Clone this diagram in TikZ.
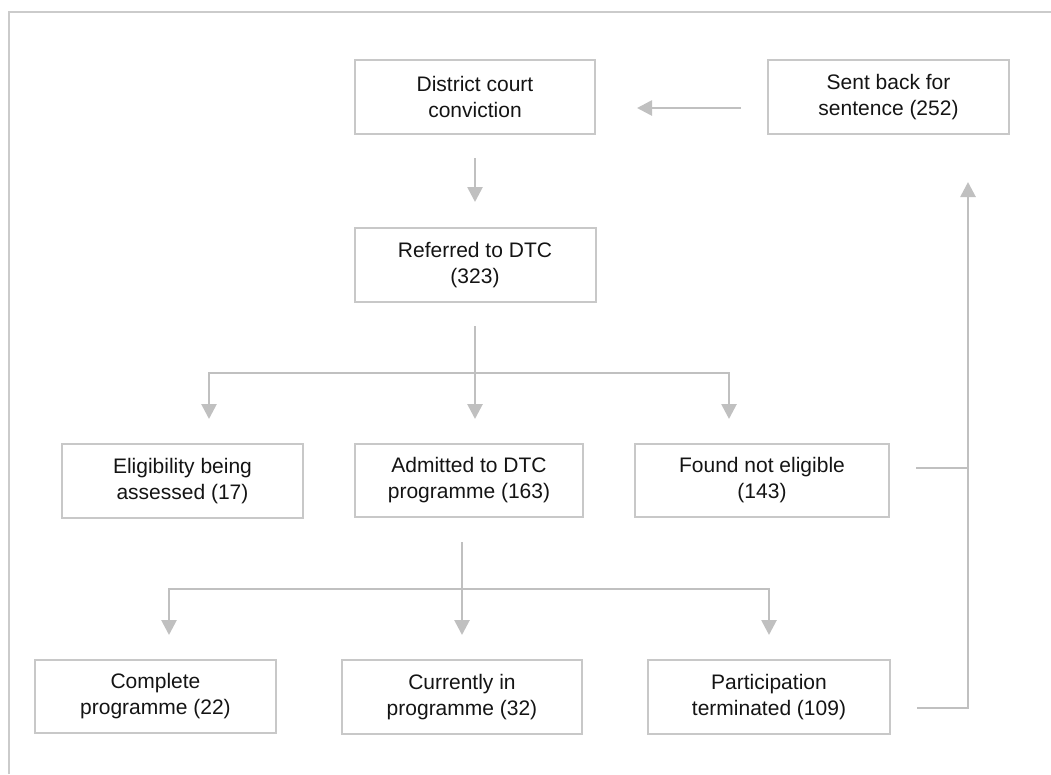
\documentclass[tikz,border=0pt]{standalone}
\usepackage{fontspec}
\setmainfont{Liberation Sans}
\usepackage{tikz}
\usetikzlibrary{arrows.meta}

\definecolor{boxgray}{HTML}{C8C8C8}
\definecolor{flowgray}{HTML}{C0C0C0}
\definecolor{framegray}{HTML}{CBCBCB}

\tikzset{
	stage/.style={draw=boxgray, line width=2pt, minimum width=241pt, minimum height=74pt, inner sep=0pt,
		align=center, text=black!92, font=\fontsize{21}{26}\selectfont},
	flow/.style={draw=flowgray, line width=2.7pt},
	flowarr/.style={flow, -{Triangle[width=15pt,length=15pt]}},
}

\begin{document}
\begin{tikzpicture}[x=1pt,y=-1pt]	%1 unit = 1 px of the page, y going down
	\useasboundingbox (0,0) rectangle (1051,774);
	\draw[framegray, line width=1.2pt] (9,774) -- (9,12) -- (1051,12);	%outer frame, cut off right and bottom
	
	%top row
	\node[stage, minimum width=240pt] (court) at (475,97) {District court\\conviction};
	\node[stage] (sentback) at (888.5,97) {Sent back for\\sentence (252)};
	\node[stage] (referred) at (475,265) {Referred to DTC\\(323)};
	
	%after referral
	\node[stage] (elig) at (182.5,481) {Eligibility being\\assessed (17)};
	\node[stage, minimum width=228pt, minimum height=73pt] (admitted) at (469,480.5) {Admitted to DTC\\programme (163)};
	\node[stage, minimum width=254pt, minimum height=73pt] (notelig) at (762,480.5) {Found not eligible\\(143)};
	
	%after admission
	\node[stage, minimum height=73pt] (complete) at (155.5,696.5) {Complete\\programme (22)};
	\node[stage, minimum width=240pt] (current) at (462,697) {Currently in\\programme (32)};
	\node[stage, minimum width=242pt] (terminated) at (769,697) {Participation\\terminated (109)};
	
	\draw[flowarr, shorten <=26pt, shorten >=41pt] ([yshift=-11pt]sentback.west) -- ([yshift=-11pt]court.east);
	\draw[flowarr, shorten <=23pt, shorten >=25pt] (court) -- (referred);
	
	\coordinate (split) at (475,373);		%branch below referral
	\draw[flow, shorten <=23pt] (referred) -- (split);
	\draw[flowarr, shorten >=24pt] (split) -| ([xshift=26.5pt]elig.north);
	\draw[flowarr, shorten >=24pt] (split) -- ([xshift=6pt]admitted.north);
	\draw[flowarr, shorten >=24pt] (split) -| ([xshift=-33pt]notelig.north);
	
	\coordinate (splitb) at (462,589);		%branch below admission
	\draw[flow, shorten <=24pt] ([xshift=-7pt]admitted.south) -- (splitb);
	\draw[flowarr, shorten >=24pt] (splitb) -| ([xshift=13.5pt]complete.north);
	\draw[flowarr, shorten >=24pt] (splitb) -- (current.north);
	\draw[flowarr, shorten >=24pt] (splitb) -| (terminated.north);
	
	%back to sentencing
	\coordinate (backup) at ([xshift=79.5pt]sentback.south);
	\coordinate (notout) at ([yshift=12.5pt]notelig.east);
	\coordinate (termout) at ([yshift=-11pt]terminated.east);
	\draw[flow, shorten <=26pt] (notout) -- (notout -| backup);
	\draw[flowarr, shorten <=26pt, shorten >=47pt] (termout) -| (backup);
\end{tikzpicture}
\end{document}
